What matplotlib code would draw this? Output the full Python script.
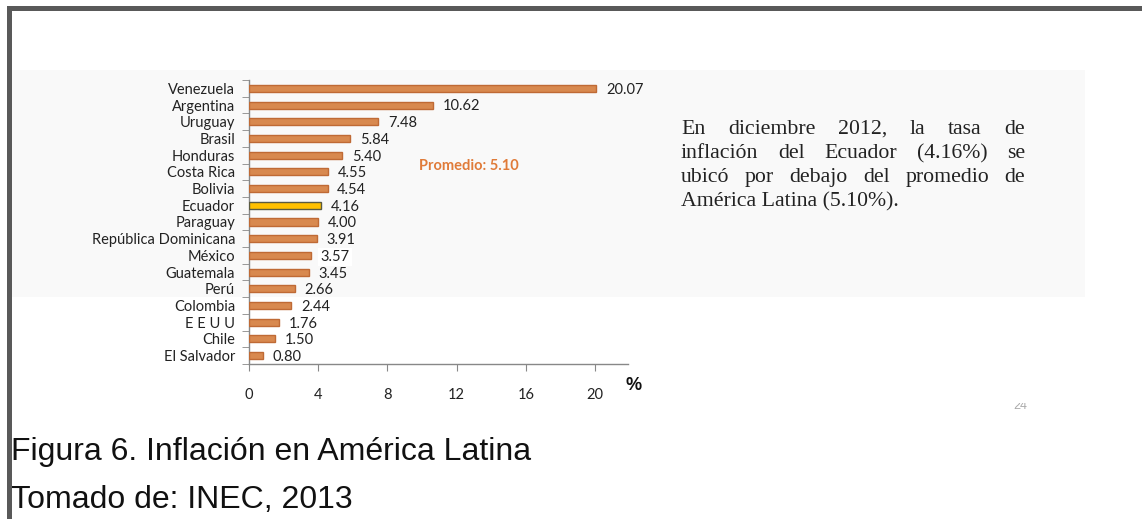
import matplotlib
matplotlib.use("Agg")
import matplotlib.pyplot as plt
from matplotlib.patches import Rectangle
from matplotlib.transforms import Bbox

countries = ["Venezuela", "Argentina", "Uruguay", "Brasil", "Honduras", "Costa Rica",
             "Bolivia", "Ecuador", "Paraguay", "República Dominicana", "México",
             "Guatemala", "Perú", "Colombia", "E E U U", "Chile", "El Salvador"]
inflation = [20.07, 10.62, 7.48, 5.84, 5.40, 4.55, 4.54, 4.16, 4.00, 3.91, 3.57,
             3.45, 2.66, 2.44, 1.76, 1.50, 0.80]
value_labels = ["20.07", "10.62", "7.48", "5.84", "5.40", "4.55", "4.54", "4.16", "4.00",
                "3.91", "3.57", "3.45", "2.66", "2.44", "1.76", "1.50", "0.80"]
highlight = "Ecuador"
average_label = "Promedio: 5.10"
x_ticks = [0, 4, 8, 12, 16, 20]

W, H = 1142, 519
fig = plt.figure(figsize=(W / 100, H / 100), dpi=100)
fig.patch.set_facecolor("white")

def fx(px):
    return px / W

def fy(py):
    return 1 - py / H

# slide background panel
fig.patches.append(Rectangle((fx(12), fy(297)), fx(1085 - 12), (297 - 70) / H,
                             transform=fig.transFigure, facecolor="#F9F9F9",
                             edgecolor="none", zorder=-10))
# frame borders
fig.patches.append(Rectangle((fx(7), 0), fx(5), fy(6), transform=fig.transFigure,
                             facecolor="#595959", edgecolor="none", zorder=5))
fig.patches.append(Rectangle((fx(7), fy(11)), 1 - fx(7), 5 / H, transform=fig.transFigure,
                             facecolor="#595959", edgecolor="none", zorder=5))

ax = fig.add_axes([fx(249), fy(364), fx(628 - 249), (364 - 80) / H])
ax.set_zorder(1)
ax.set_facecolor("none")
ypos = list(range(len(countries)))
colors = ["#FFC000" if c == highlight else "#D8894F" for c in countries]
edges = ["#5A5A40" if c == highlight else "#BF6A35" for c in countries]
ax.barh(ypos, inflation, height=0.42, color=colors, edgecolor=edges, linewidth=1.0, zorder=3)
ax.set_ylim(len(countries) - 0.5, -0.5)
ax.set_xlim(0, 21.9)

lab_font = "Lato"
fs = 10.5
for y, v, s in zip(ypos, inflation, value_labels):
    kw = {}
    if s == "3.57":
        kw["bbox"] = dict(facecolor="white", edgecolor="none", pad=1.5)
    ax.annotate(s, (v, y), xytext=(7, -1), textcoords="offset points", va="center",
                ha="left", fontsize=fs, color="#222222", family=lab_font, zorder=4, **kw)

ax.set_yticks(ypos)
ax.set_yticklabels(countries, fontsize=fs, family=lab_font, color="#222222")
ax.tick_params(axis="y", which="major", length=0, pad=10)
ax.set_yticks([i - 0.5 for i in range(len(countries) + 1)], minor=True)
ax.tick_params(axis="y", which="minor", length=5, color="#888888", direction="out")

ax.set_xticks(x_ticks)
ax.set_xticklabels([str(t) for t in x_ticks], fontsize=fs, family=lab_font, color="#222222")
ax.tick_params(axis="x", length=5, color="#888888", pad=12, direction="out")

for sp in ["top", "right"]:
    ax.spines[sp].set_visible(False)
for sp in ["left", "bottom"]:
    ax.spines[sp].set_color("#888888")
    ax.spines[sp].set_linewidth(1.0)

ax.text(9.85, 4.65, average_label, fontsize=10.5, fontweight="bold", color="#E07B39",
        family=lab_font, va="center", ha="left")

fig.text(fx(626), fy(386), "%", fontsize=13, fontweight="bold", color="#111111",
         family="Liberation Sans", va="center", ha="left")

# justified paragraph
para_lines = ["En diciembre 2012, la tasa de",
              "inflación del Ecuador (4.16%) se",
              "ubicó por debajo del promedio de",
              "América Latina (5.10%)."]
x0, x1 = 681, 1025
base0, dy = 134, 24
renderer = fig.canvas.get_renderer()
pfont = dict(fontsize=15.7, family="Liberation Serif", color="#222222")
for i, line in enumerate(para_lines):
    yb = fy(base0 + i * dy)
    words = line.split(" ")
    if i == len(para_lines) - 1:
        fig.text(fx(x0), yb, line, va="baseline", ha="left", **pfont)
        continue
    texts = [fig.text(0, yb, w, va="baseline", ha="left", **pfont) for w in words]
    widths = [t.get_window_extent(renderer).width for t in texts]
    gap = (x1 - x0 - sum(widths)) / (len(words) - 1)
    xx = x0
    for t, w in zip(texts, widths):
        t.set_x(fx(xx))
        xx += w + gap

# partially hidden page number
pn = fig.text(fx(1020), fy(409), "24", fontsize=9, color="#AAAAAA", family="Liberation Sans",
              va="baseline", ha="center")
pn.set_clip_box(Bbox.from_extents(0, 0, W, H - 403))
pn.set_clip_on(True)

fig.text(fx(11), fy(460), "Figura 6. Inflación en América Latina", fontsize=23,
         family="Liberation Sans", color="#111111", va="baseline", ha="left")
fig.text(fx(11), fy(508), "Tomado de: INEC, 2013", fontsize=23,
         family="Liberation Sans", color="#111111", va="baseline", ha="left")

fig.savefig("out.png", dpi=100, facecolor="white")
